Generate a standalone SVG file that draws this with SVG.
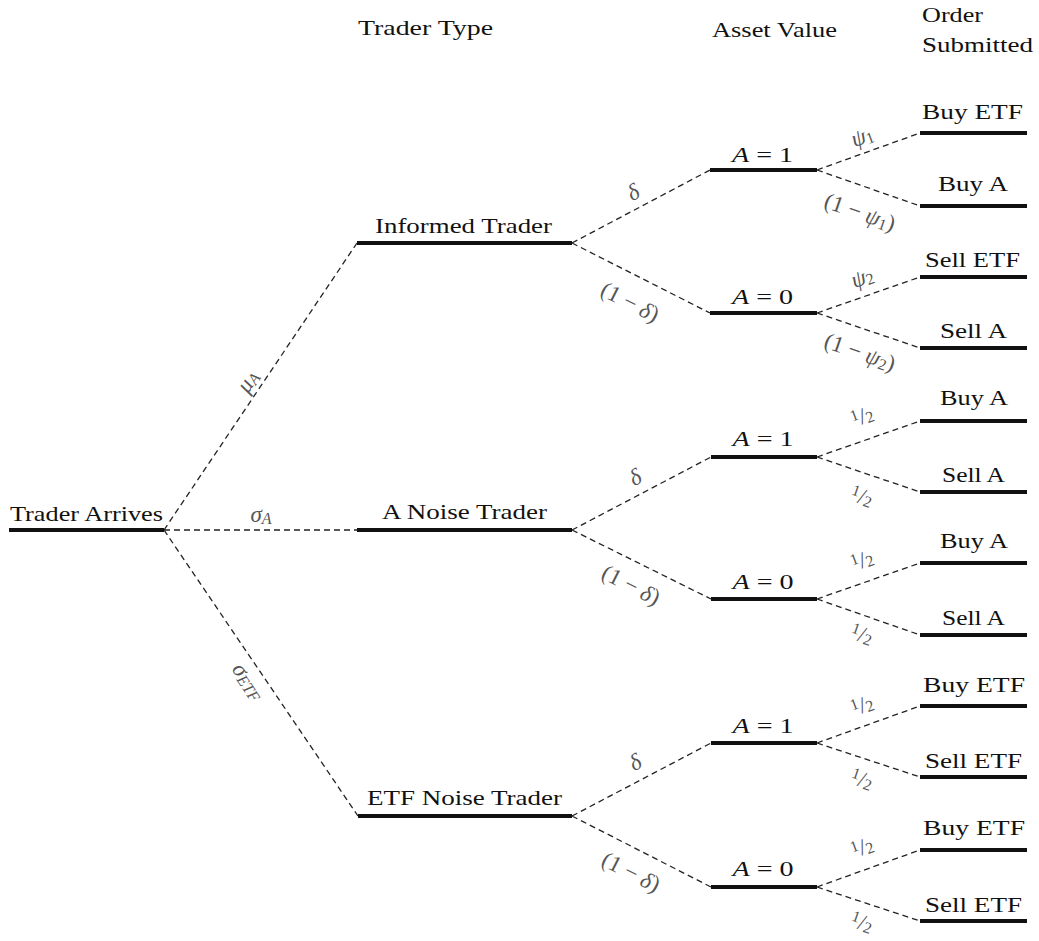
<svg xmlns="http://www.w3.org/2000/svg" width="1039" height="941" viewBox="0 0 1039 941">
  <style>
    .bar { stroke: #111; stroke-width: 4; stroke-linecap: butt; fill: none; }
    .edge { stroke: #222; stroke-width: 1.3; stroke-dasharray: 6 4; fill: none; }
    .lbl { font-family: "Liberation Serif", "DejaVu Serif", serif; font-size: 21px; fill: #111; text-anchor: middle; }
    .hdr { font-family: "Liberation Serif", "DejaVu Serif", serif; font-size: 22px; fill: #111; }
    .math { font-family: "Liberation Serif", "DejaVu Serif", serif; font-size: 23px; fill: #555; text-anchor: middle; dominant-baseline: central; }
    .it { font-style: italic; }
    .sub { font-size: 16px; font-style: italic; }
    .fr { font-size: 16px; }
  </style>
  <rect width="1039" height="941" fill="#fff"/>

  <!-- column headings -->
  <g id="headings">
    <text class="hdr" x="425.5" y="35" text-anchor="middle" textLength="135" lengthAdjust="spacingAndGlyphs">Trader Type</text>
    <text class="hdr" x="774.5" y="37" text-anchor="middle" textLength="125" lengthAdjust="spacingAndGlyphs">Asset Value</text>
    <text class="hdr" x="922" y="22" textLength="61" lengthAdjust="spacingAndGlyphs">Order</text>
    <text class="hdr" x="922" y="52" textLength="111" lengthAdjust="spacingAndGlyphs">Submitted</text>
  </g>

  <!-- dashed branches -->
  <g id="connectors">
    <path class="edge" d="M164 530 L357 243 M164 530 L357 530 M164 530 L358 816"/>
    <path class="edge" d="M572 243 L710 170 M572 243 L710 313"/>
    <path class="edge" d="M572 530 L711 457 M572 530 L711 599"/>
    <path class="edge" d="M572 816 L711 743 M572 816 L711 887"/>
    <path class="edge" d="M817 170 L920 133 M817 170 L920 206 M817 313 L920 277 M817 313 L920 348"/>
    <path class="edge" d="M817 457 L920 421 M817 457 L920 492 M817 599 L920 563 M817 599 L920 635"/>
    <path class="edge" d="M817 743 L920 706 M817 743 L920 777 M817 887 L920 850 M817 887 L920 921"/>
  </g>

  <!-- branch probabilities -->
  <g id="probabilities">
    <text class="math" transform="translate(247 381) rotate(-56)"><tspan class="it">μ</tspan><tspan class="sub" dy="4">A</tspan></text>
    <text class="math" x="261" y="514"><tspan class="it">σ</tspan><tspan class="sub" dy="4">A</tspan></text>
    <text class="math" transform="translate(249 681) rotate(56)"><tspan class="it">σ</tspan><tspan class="sub" dy="4">ETF</tspan></text>

    <text class="math" transform="translate(633 192) rotate(-28)"><tspan class="it">δ</tspan></text>
    <text class="math" transform="translate(630 302) rotate(27)">(1 − <tspan class="it">δ</tspan>)</text>
    <text class="math" transform="translate(635 477) rotate(-28)"><tspan class="it">δ</tspan></text>
    <text class="math" transform="translate(631 585) rotate(27)">(1 − <tspan class="it">δ</tspan>)</text>
    <text class="math" transform="translate(635 762) rotate(-28)"><tspan class="it">δ</tspan></text>
    <text class="math" transform="translate(631 872) rotate(27)">(1 − <tspan class="it">δ</tspan>)</text>

    <text class="math" transform="translate(862 136) rotate(-20)"><tspan class="it">ψ</tspan><tspan class="fr" dy="4">1</tspan></text>
    <text class="math" transform="translate(860 212) rotate(19)">(1 − <tspan class="it">ψ</tspan><tspan class="fr" dy="4">1</tspan><tspan dy="-4">)</tspan></text>
    <text class="math" transform="translate(862 277) rotate(-20)"><tspan class="it">ψ</tspan><tspan class="fr" dy="4">2</tspan></text>
    <text class="math" transform="translate(860 352) rotate(19)">(1 − <tspan class="it">ψ</tspan><tspan class="fr" dy="4">2</tspan><tspan dy="-4">)</tspan></text>

    <text class="math" transform="translate(862 416) rotate(-20)"><tspan class="fr" dy="-4">1</tspan><tspan dy="4">/</tspan><tspan class="fr" dy="3">2</tspan></text>
    <text class="math" transform="translate(862 496) rotate(19)"><tspan class="fr" dy="-4">1</tspan><tspan dy="4">/</tspan><tspan class="fr" dy="3">2</tspan></text>
    <text class="math" transform="translate(862 560) rotate(-20)"><tspan class="fr" dy="-4">1</tspan><tspan dy="4">/</tspan><tspan class="fr" dy="3">2</tspan></text>
    <text class="math" transform="translate(862 634) rotate(19)"><tspan class="fr" dy="-4">1</tspan><tspan dy="4">/</tspan><tspan class="fr" dy="3">2</tspan></text>
    <text class="math" transform="translate(862 705) rotate(-20)"><tspan class="fr" dy="-4">1</tspan><tspan dy="4">/</tspan><tspan class="fr" dy="3">2</tspan></text>
    <text class="math" transform="translate(862 779) rotate(19)"><tspan class="fr" dy="-4">1</tspan><tspan dy="4">/</tspan><tspan class="fr" dy="3">2</tspan></text>
    <text class="math" transform="translate(862 847) rotate(-20)"><tspan class="fr" dy="-4">1</tspan><tspan dy="4">/</tspan><tspan class="fr" dy="3">2</tspan></text>
    <text class="math" transform="translate(862 922) rotate(19)"><tspan class="fr" dy="-4">1</tspan><tspan dy="4">/</tspan><tspan class="fr" dy="3">2</tspan></text>
  </g>

  <!-- root -->
  <g id="trader-arrives">
    <line class="bar" x1="9" y1="530" x2="164" y2="530"/>
    <text class="lbl" x="86.5" y="521" textLength="153" lengthAdjust="spacingAndGlyphs">Trader Arrives</text>
  </g>

  <!-- trader types -->
  <g id="informed-trader">
    <line class="bar" x1="357" y1="243" x2="572" y2="243"/>
    <text class="lbl" x="463.5" y="233" textLength="177" lengthAdjust="spacingAndGlyphs">Informed Trader</text>
  </g>
  <g id="a-noise-trader">
    <line class="bar" x1="357" y1="530" x2="572" y2="530"/>
    <text class="lbl" x="464.5" y="519" textLength="165" lengthAdjust="spacingAndGlyphs">A Noise Trader</text>
  </g>
  <g id="etf-noise-trader">
    <line class="bar" x1="358" y1="816" x2="572" y2="816"/>
    <text class="lbl" x="464.5" y="805" textLength="195" lengthAdjust="spacingAndGlyphs">ETF Noise Trader</text>
  </g>

  <!-- asset values -->
  <g id="informed-a1">
    <line class="bar" x1="710" y1="170" x2="817" y2="170"/>
    <text class="lbl" x="762.5" y="162" textLength="61" lengthAdjust="spacingAndGlyphs"><tspan class="it">A</tspan> = 1</text>
  </g>
  <g id="informed-a0">
    <line class="bar" x1="710" y1="313" x2="817" y2="313"/>
    <text class="lbl" x="762.5" y="304" textLength="61" lengthAdjust="spacingAndGlyphs"><tspan class="it">A</tspan> = 0</text>
  </g>
  <g id="anoise-a1">
    <line class="bar" x1="711" y1="457" x2="817" y2="457"/>
    <text class="lbl" x="763" y="446" textLength="61" lengthAdjust="spacingAndGlyphs"><tspan class="it">A</tspan> = 1</text>
  </g>
  <g id="anoise-a0">
    <line class="bar" x1="711" y1="599" x2="817" y2="599"/>
    <text class="lbl" x="763" y="589" textLength="61" lengthAdjust="spacingAndGlyphs"><tspan class="it">A</tspan> = 0</text>
  </g>
  <g id="etfnoise-a1">
    <line class="bar" x1="711" y1="743" x2="817" y2="743"/>
    <text class="lbl" x="763" y="733" textLength="61" lengthAdjust="spacingAndGlyphs"><tspan class="it">A</tspan> = 1</text>
  </g>
  <g id="etfnoise-a0">
    <line class="bar" x1="711" y1="887" x2="817" y2="887"/>
    <text class="lbl" x="763" y="876" textLength="61" lengthAdjust="spacingAndGlyphs"><tspan class="it">A</tspan> = 0</text>
  </g>

  <!-- orders -->
  <g id="order-1">
    <line class="bar" x1="920" y1="133" x2="1027" y2="133"/>
    <text class="lbl" x="972.5" y="119" textLength="101" lengthAdjust="spacingAndGlyphs">Buy ETF</text>
  </g>
  <g id="order-2">
    <line class="bar" x1="920" y1="206" x2="1027" y2="206"/>
    <text class="lbl" x="973" y="191" textLength="70" lengthAdjust="spacingAndGlyphs">Buy A</text>
  </g>
  <g id="order-3">
    <line class="bar" x1="920" y1="277" x2="1027" y2="277"/>
    <text class="lbl" x="972.5" y="267" textLength="95" lengthAdjust="spacingAndGlyphs">Sell ETF</text>
  </g>
  <g id="order-4">
    <line class="bar" x1="920" y1="348" x2="1027" y2="348"/>
    <text class="lbl" x="973.5" y="338" textLength="67" lengthAdjust="spacingAndGlyphs">Sell A</text>
  </g>
  <g id="order-5">
    <line class="bar" x1="920" y1="421" x2="1027" y2="421"/>
    <text class="lbl" x="974" y="405" textLength="68" lengthAdjust="spacingAndGlyphs">Buy A</text>
  </g>
  <g id="order-6">
    <line class="bar" x1="920" y1="492" x2="1027" y2="492"/>
    <text class="lbl" x="973.5" y="482" textLength="63" lengthAdjust="spacingAndGlyphs">Sell A</text>
  </g>
  <g id="order-7">
    <line class="bar" x1="920" y1="563" x2="1027" y2="563"/>
    <text class="lbl" x="974" y="548" textLength="68" lengthAdjust="spacingAndGlyphs">Buy A</text>
  </g>
  <g id="order-8">
    <line class="bar" x1="920" y1="635" x2="1027" y2="635"/>
    <text class="lbl" x="973.5" y="625" textLength="63" lengthAdjust="spacingAndGlyphs">Sell A</text>
  </g>
  <g id="order-9">
    <line class="bar" x1="920" y1="706" x2="1027" y2="706"/>
    <text class="lbl" x="974" y="692" textLength="102" lengthAdjust="spacingAndGlyphs">Buy ETF</text>
  </g>
  <g id="order-10">
    <line class="bar" x1="920" y1="777" x2="1027" y2="777"/>
    <text class="lbl" x="973.5" y="768" textLength="97" lengthAdjust="spacingAndGlyphs">Sell ETF</text>
  </g>
  <g id="order-11">
    <line class="bar" x1="920" y1="850" x2="1027" y2="850"/>
    <text class="lbl" x="974" y="835" textLength="102" lengthAdjust="spacingAndGlyphs">Buy ETF</text>
  </g>
  <g id="order-12">
    <line class="bar" x1="920" y1="921" x2="1027" y2="921"/>
    <text class="lbl" x="973.5" y="912" textLength="97" lengthAdjust="spacingAndGlyphs">Sell ETF</text>
  </g>
</svg>
